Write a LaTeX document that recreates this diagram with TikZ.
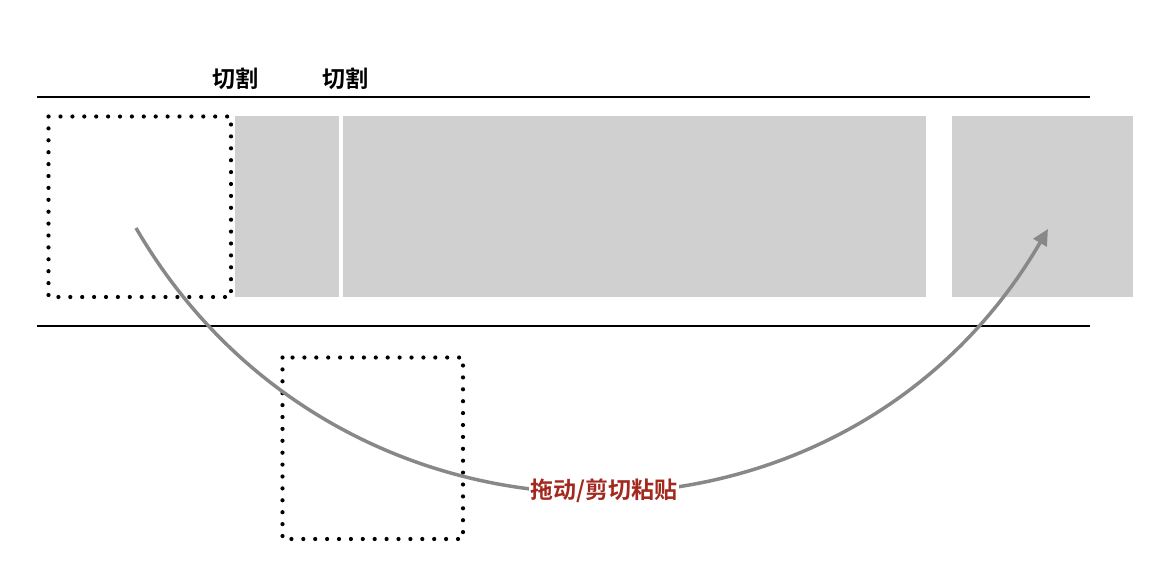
\documentclass[tikz,border=0pt]{standalone}
\usepackage{fontspec}
\newfontfamily\cjk{Noto Sans CJK SC Bold}
\usetikzlibrary{arrows.meta}
\definecolor{blockgray}{HTML}{D0D0D0}
\definecolor{arrowgray}{HTML}{888888}
\definecolor{labelred}{HTML}{A3291F}
\begin{document}
\begin{tikzpicture}[x=1pt,y=-1pt,
  rule/.style={line width=2pt,black},
  block/.style={fill=blockgray,draw=none},
  dotbox/.style={draw=black,line width=4.2pt,line cap=round,dash pattern=on 0pt off 11.9pt},
  cutlabel/.style={font=\cjk\fontsize{23}{27}\selectfont,inner sep=0pt},
  movelabel/.style={font=\cjk\fontsize{23}{27}\selectfont,text=labelred,fill=white,inner sep=1.5pt},
  movearrow/.style={draw=arrowgray,line width=3.5pt,-{Triangle[length=16pt,width=15pt]}}]
\useasboundingbox (0,0) rectangle (1164,580);
% rules
\coordinate (t1) at (37,97); \coordinate (t2) at (1090,97);
\coordinate (b1) at (37,326); \coordinate (b2) at (1090,326);
\draw[rule] (t1) -- (t2);
\draw[rule] (b1) -- (b2);
% gray blocks
\path[block] (235,116) rectangle (339,297);
\path[block] (343,116) rectangle (926,297);
\path[block] (952,116) rectangle (1133,297);
% dotted boxes
\draw[dotbox] (48.5,116.5) rectangle (231,297);
\draw[dotbox] (282.5,357.5) rectangle (463,539);
% cut labels
\node[cutlabel] (c1) at (235,79) {切割};
\node[cutlabel] (c2) at (345,79) {切割};
% move arrow
\coordinate (s) at (136,228);
\coordinate (e) at (1048,229);
\draw[movearrow] (s) .. controls (340,579) and (844,579) .. (e);
\node[movelabel] (lab) at (604,491) {拖动/剪切粘贴};
\end{tikzpicture}
\end{document}
